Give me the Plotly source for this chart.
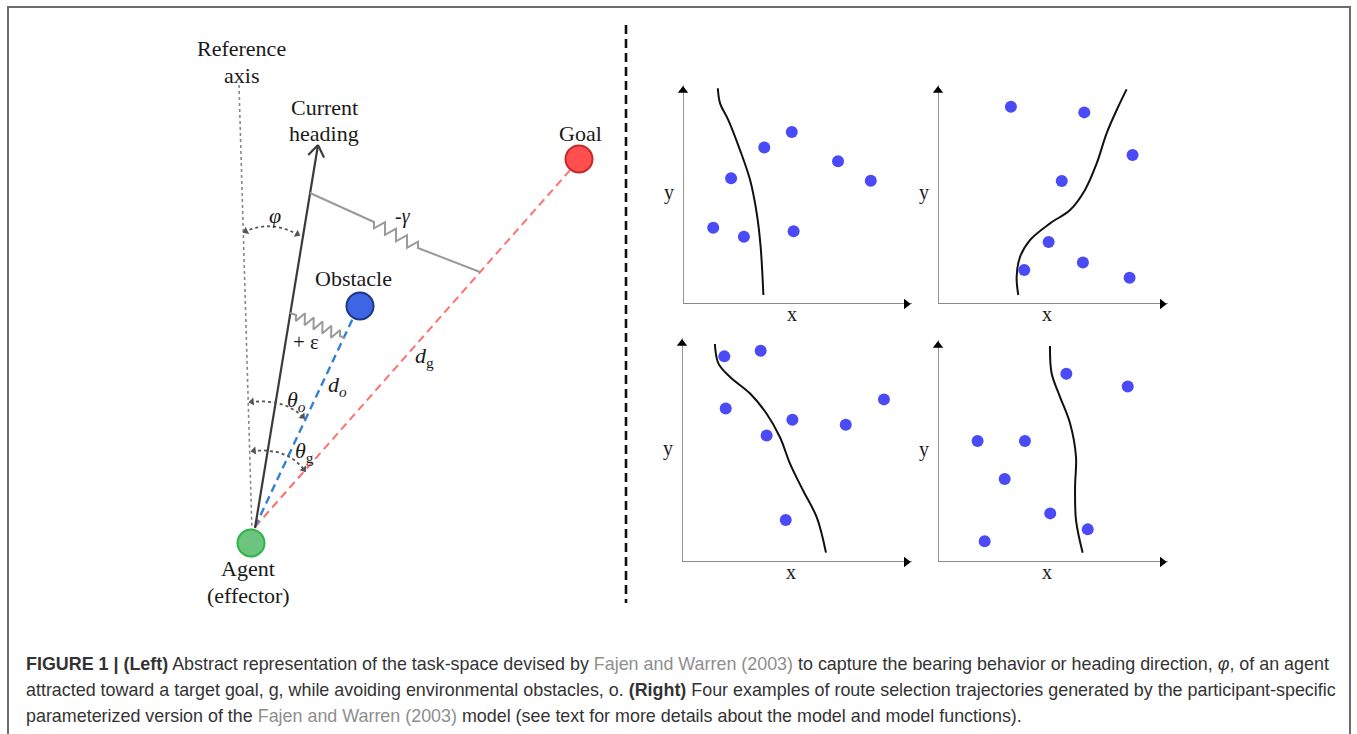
import numpy as np
import plotly.graph_objects as go

W, H = 1357, 734

# ---------------- Left diagram: node positions (page pixels) ----------------
agent_xy = (251, 543)
goal_xy = (579, 159)
obstacle_xy = (360, 306)
heading_base = (255, 528)
heading_tip = (318, 145)
ref_axis_x = [239, 252]
ref_axis_y = [85, 532]
goal_line_x = [255, 572]
goal_line_y = [527, 168]
obst_line_x = [255, 353]
obst_line_y = [527, 318]
# springs: [start, coil start, coil end, end]
gamma_spring = [(310, 193), (374, 222), (418, 248), (480, 272)]
eps_spring = [(290, 313), (296, 315), (340, 336), (345, 338)]
# angle arcs: start, control, end
phi_arc = [(244, 232), (270, 219), (299, 235)]
theta_o_arc = [(250, 402), (285, 398), (304, 418)]
theta_g_arc = [(252, 451), (288, 447), (305, 471)]
separator_x = [626, 626]
separator_y = [25, 603]

# ---------------- Right panels: route selection examples ----------------
p1_pts_x = [1.32, 2.66, 2.10, 3.55, 4.75, 6.77, 8.20, 4.83]
p1_pts_y = [3.48, 3.07, 5.74, 7.15, 7.85, 6.52, 5.63, 3.32]
p1_path_x = [1.52, 1.62, 1.98, 2.49, 2.93, 3.22, 3.39, 3.51]
p1_path_y = [9.85, 9.16, 8.40, 7.03, 5.66, 4.14, 2.62, 0.41]

p2_pts_x = [3.17, 6.36, 8.46, 5.38, 4.81, 3.75, 6.30, 8.33]
p2_pts_y = [9.01, 8.75, 6.80, 5.62, 2.83, 1.55, 1.89, 1.20]
p2_path_x = [3.49, 3.42, 3.57, 4.00, 4.87, 5.74, 6.39, 6.90, 7.33, 7.77, 8.20]
p2_path_y = [0.41, 1.25, 2.16, 2.92, 3.68, 4.29, 5.21, 6.42, 7.79, 8.86, 9.80]

p3_pts_x = [1.84, 3.42, 1.90, 4.80, 3.68, 7.12, 8.78, 4.51]
p3_pts_y = [9.18, 9.43, 6.85, 6.35, 5.65, 6.13, 7.26, 1.87]
p3_path_x = [1.43, 1.58, 2.09, 2.96, 3.68, 4.26, 4.70, 5.27, 5.86, 6.26]
p3_path_y = [9.73, 8.87, 8.26, 7.52, 6.62, 5.57, 4.38, 3.18, 1.99, 0.42]

p4_pts_x = [5.58, 8.25, 1.72, 3.78, 2.90, 4.88, 6.51, 2.03]
p4_pts_y = [8.48, 7.91, 5.45, 5.45, 3.74, 2.19, 1.47, 0.93]
p4_path_x = [4.87, 4.94, 5.30, 5.74, 6.00, 5.96, 6.00, 6.29]
p4_path_y = [9.73, 8.50, 7.45, 6.25, 4.74, 3.39, 1.89, 0.42]

panels = [
    (p1_pts_x, p1_pts_y, p1_path_x, p1_path_y),
    (p2_pts_x, p2_pts_y, p2_path_x, p2_path_y),
    (p3_pts_x, p3_pts_y, p3_path_x, p3_path_y),
    (p4_pts_x, p4_pts_y, p4_path_x, p4_path_y),
]
# panel boxes in page pixels: (left, right, top, bottom)
panel_boxes = [(683, 912, 85, 304), (938, 1168, 85, 304),
               (682, 912, 338, 562), (938, 1168, 340, 562)]
axis_titles = ("x", "y")

caption_lines = [
    "<b>FIGURE 1 | (Left)</b> Abstract representation of the task-space devised by "
    "<span style='color:#8e8e8e'>Fajen and Warren (2003)</span> to capture the bearing "
    "behavior or heading direction, <i>φ</i>, of an agent",
    "attracted toward a target goal, g, while avoiding environmental obstacles, o. "
    "<b>(Right)</b> Four examples of route selection trajectories generated by the "
    "participant-specific",
    "parameterized version of the <span style='color:#8e8e8e'>Fajen and Warren (2003)</span> "
    "model (see text for more details about the model and model functions).",
]
caption_y = [664, 690, 716]

SERIF = "Liberation Serif, Times New Roman, serif"
SANS = "Liberation Sans, Arial, sans-serif"

fig = go.Figure()


def line(xs, ys, color, width, dash="solid", ref=("x", "y"), shape="linear"):
    fig.add_trace(go.Scatter(x=xs, y=ys, mode="lines", xaxis=ref[0], yaxis=ref[1],
                             line=dict(color=color, width=width, dash=dash, shape=shape),
                             hoverinfo="skip", showlegend=False, cliponaxis=False))


def zigzag(p0, p1, n, a):
    p0, p1 = np.array(p0, float), np.array(p1, float)
    d = p1 - p0
    L = np.hypot(*d)
    u = d / L
    nrm = np.array([-u[1], u[0]])
    pts = [p0]
    for k in range(2 * n):
        t = (k + 0.5) / (2 * n)
        s = 1 if k % 2 == 0 else -1
        pts.append(p0 + t * d + s * a * nrm)
    pts.append(p1)
    pts = np.array(pts)
    return pts[:, 0], pts[:, 1]


def spring(spec, n, a):
    s, c0, c1, e = spec
    zx, zy = zigzag(c0, c1, n, a)
    xs = [s[0]] + list(zx) + [e[0]]
    ys = [s[1]] + list(zy) + [e[1]]
    line(xs, ys, "#9a9a9a", 2)


def arc(spec):
    a, c, b = [np.array(p, float) for p in spec]
    t = np.linspace(0, 1, 30)
    pts = ((1 - t) ** 2)[:, None] * a + (2 * (1 - t) * t)[:, None] * c + (t ** 2)[:, None] * b
    line(pts[:, 0], pts[:, 1], "#555555", 1.8, dash="dot")
    hx, hy, ang = [], [], []
    for head, tail in ((a, c), (b, c)):
        v = head - tail
        v = v / np.hypot(*v)
        pos = head - 2.0 * v
        hx.append(pos[0])
        hy.append(pos[1])
        ang.append(float(np.degrees(np.arctan2(v[0], -v[1]))))
    fig.add_trace(go.Scatter(x=hx, y=hy, mode="markers", xaxis="x", yaxis="y",
                             marker=dict(symbol="triangle-up", size=7, angle=ang,
                                         color="#555555"),
                             hoverinfo="skip", showlegend=False, cliponaxis=False))


# frame
line([8, 8, 1350, 1350], [734, 7, 7, 734], "#6b6b6b", 2)
# separator
line(separator_x, separator_y, "#111111", 2.6, dash="9px,5px")

# reference axis
line(ref_axis_x, ref_axis_y, "#888888", 1.6, dash="dot")
# dashed lines to goal / obstacle
line(goal_line_x, goal_line_y, "#ff6f6f", 2, dash="8px,5px")
line(obst_line_x, obst_line_y, "#2f80d8", 2.4, dash="8px,5px")
# heading
line([heading_base[0], heading_tip[0]], [heading_base[1], heading_tip[1]], "#3a3a3a", 2.2)
hb, ht = np.array(heading_base, float), np.array(heading_tip, float)
back = (hb - ht) / np.hypot(*(hb - ht))
for ang_ in (np.radians(35), -np.radians(35)):
    rot = np.array([back[0] * np.cos(ang_) - back[1] * np.sin(ang_),
                    back[0] * np.sin(ang_) + back[1] * np.cos(ang_)])
    arm = ht + 14 * rot
    line([arm[0], ht[0]], [arm[1], ht[1]], "#3a3a3a", 2.2)

# springs
spring(gamma_spring, 4, 5.5)
spring(eps_spring, 5, 5.5)

# arcs
for a_ in (phi_arc, theta_o_arc, theta_g_arc):
    arc(a_)

# circles
for (cx, cy), fill, edge in ((goal_xy, "#ff4f4f", "#c42a2a"),
                             (obstacle_xy, "#3e66e4", "#1d3787"),
                             (agent_xy, "#6cc47f", "#2db54a")):
    fig.add_trace(go.Scatter(x=[cx], y=[cy], mode="markers", xaxis="x", yaxis="y",
                             marker=dict(size=27, color=fill, line=dict(color=edge, width=2)),
                             hoverinfo="skip", showlegend=False, cliponaxis=False))

# diagram labels
labels = [
    ("Reference", 241, 48), ("axis", 241, 75),
    ("Current", 324, 107), ("heading", 324, 133),
    ("Goal", 580, 133), ("Obstacle", 353, 278),
    ("Agent", 248, 568), ("(effector)", 248, 595),
]
for txt, x, y in labels:
    fig.add_annotation(x=x, y=y, xref="x", yref="y", text=txt, showarrow=False,
                       font=dict(family=SERIF, size=22, color="#1a1a1a"))
sym = [
    ("<i>φ</i>", 275, 215, 22), ("-<i>γ</i>", 403, 216, 20), ("+ ε", 306, 342, 21),
    ("<i>d</i><sub><i>o</i></sub>", 337, 386, 22), ("<i>d</i><sub>g</sub>", 424, 357, 22),
    ("<i>θ</i><sub><i>o</i></sub>", 296, 401, 22), ("<i>θ</i><sub>g</sub>", 304, 452, 22),
]
for txt, x, y, s in sym:
    fig.add_annotation(x=x, y=y, xref="x", yref="y", text=txt, showarrow=False,
                       font=dict(family=SERIF, size=s, color="#1a1a1a"))

# panels
for i, ((px, py, cx, cy), (l, r, t, b)) in enumerate(zip(panels, panel_boxes)):
    k = i + 2
    xa, ya = f"x{k}", f"y{k}"
    fig.layout[f"xaxis{k}"] = dict(domain=[l / W, r / W], range=[0, 10], visible=False,
                                   fixedrange=True, anchor=ya)
    fig.layout[f"yaxis{k}"] = dict(domain=[1 - b / H, 1 - t / H], range=[0, 10], visible=False,
                                   fixedrange=True, anchor=xa)
    line([0, 0, 10], [10, 0, 0], "#8a8a8a", 1.8, ref=(xa, ya))
    fig.add_trace(go.Scatter(x=[0, 9.75], y=[9.75, 0], mode="markers", xaxis=xa, yaxis=ya,
                             marker=dict(symbol=["triangle-up", "triangle-right"], size=9,
                                         color="#000000"),
                             hoverinfo="skip", showlegend=False, cliponaxis=False))
    line(cx, cy, "#111111", 2, ref=(xa, ya), shape="spline")
    fig.add_trace(go.Scatter(x=px, y=py, mode="markers", xaxis=xa, yaxis=ya,
                             marker=dict(size=12, color="#4a4af6"),
                             hoverinfo="skip", showlegend=False, cliponaxis=False))
    # axis titles placed just outside the panel box (page pixels)
    fig.add_annotation(x=l - 14, y=(t + b) / 2 - 2, xref="x", yref="y", text=axis_titles[1],
                       showarrow=False, font=dict(family=SERIF, size=20, color="#1a1a1a"))
    fig.add_annotation(x=(l + r) / 2 - 6, y=b + 10, xref="x", yref="y", text=axis_titles[0],
                       showarrow=False, font=dict(family=SERIF, size=20, color="#1a1a1a"))

# caption
for txt, y in zip(caption_lines, caption_y):
    fig.add_annotation(x=24, y=y, xref="x", yref="y", text=txt, showarrow=False,
                       xanchor="left", yanchor="middle", align="left",
                       font=dict(family=SANS, size=17.9, color="#333333"))

fig.update_layout(
    width=W, height=H, margin=dict(l=0, r=0, t=0, b=0),
    paper_bgcolor="white", plot_bgcolor="rgba(0,0,0,0)", showlegend=False,
    xaxis=dict(domain=[0, 1], range=[0, W], visible=False, fixedrange=True),
    yaxis=dict(domain=[0, 1], range=[H, 0], visible=False, fixedrange=True),
)

fig.write_html("out.html", config={"displayModeBar": False},
               post_script="document.body.style.margin='0';document.body.style.overflow='hidden';")
